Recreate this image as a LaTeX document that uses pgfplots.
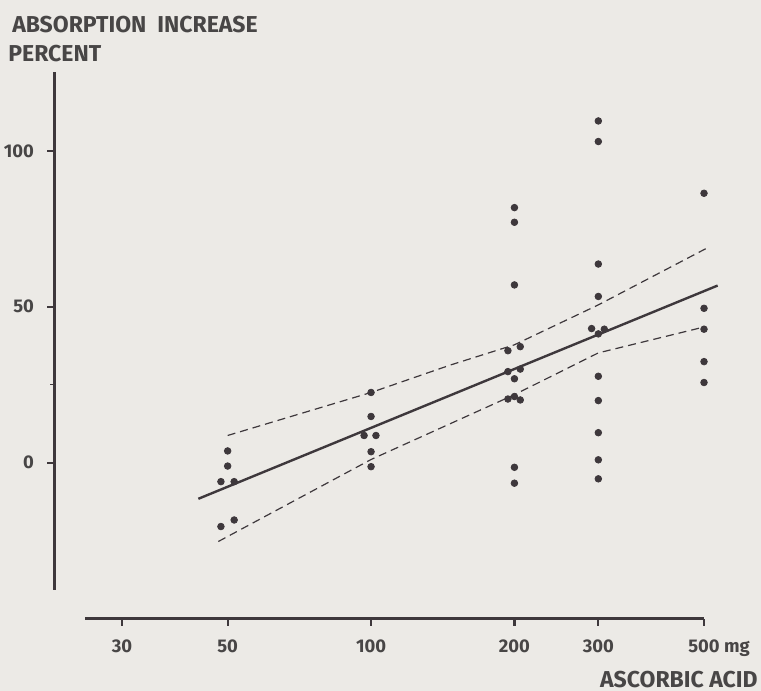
\documentclass[border=0pt]{standalone}
\usepackage{pgfplots}
\pgfplotsset{compat=1.18}
\usepackage{fontspec}
\setmainfont{Fira Sans}
\definecolor{bg}{RGB}{236,234,230}
\definecolor{ink}{RGB}{62,56,60}
\definecolor{txt}{RGB}{72,70,70}

\begin{document}
\begin{tikzpicture}
\fill[bg] (-27pt,-36.25pt) rectangle (353.5pt,309.25pt);
\path[use as bounding box] (-27pt,-36.25pt) rectangle (353.5pt,309.25pt);
\begin{axis}[
  at={(0,0)}, anchor=south west, scale only axis,
  width=325pt, height=273.25pt,
  xmode=log, xmin=21.6, xmax=500, ymin=-50, ymax=125.3,
  axis x line*=bottom, axis y line*=left,
  axis line style={draw=none,-},
  clip=false,
  /pgf/number format/assume math mode=true,
  xtick={30,50,100,200,300,500},
  xticklabels={30,50,100,200,300,500\rlap{ mg}},
  ytick={0,50,100}, minor ytick={25},
  yticklabels={0,50,100},
  xminorticks=false,
  tick align=outside,
  major tick length=3.5pt, minor tick length=2pt,
  every major tick/.append style={ink, line width=1.1pt},
  every minor tick/.append style={ink, line width=0.5pt},
  ticklabel style={font=\bfseries\fontsize{9.2}{10}\selectfont, text=txt},
  yticklabel style={xshift=-3pt},
  xticklabel style={yshift=-3.5pt},
]
\draw[ink, line width=1.5pt] (axis cs:25.1,-50) -- (axis cs:500,-50);
\draw[ink, line width=1.5pt] (axis cs:21.6,-40.8) -- (axis cs:21.6,125.3);

% regression line
\addplot[ink, line width=1.2pt] coordinates {(43.4,-11.6) (534,56.8)};
% confidence limits
\addplot[ink, line width=0.6pt, dash pattern=on 4pt off 2.5pt] coordinates {
  (50,8.7) (100,22.5) (146.7,31.3) (200,37.8) (300,50.6) (504,68.6)};
\addplot[ink, line width=0.6pt, dash pattern=on 4pt off 2.5pt] coordinates {
  (47.8,-25.3) (100,1.0) (200,21.8) (300,35.2) (500,43.5)};

% data points
\addplot[only marks, mark=*, mark size=1.65pt, ink, mark options={fill=ink, draw=ink}] coordinates {
  (50,3.75) (50,-1.1) (48.4,-6.1) (51.6,-6.1) (51.6,-18.4) (48.4,-20.5)
  (100,22.5) (100,14.8) (96.7,8.7) (102.4,8.7) (100,3.5) (100,-1.3)
  (200,81.8) (200,77.1) (200,57.0) (193.8,35.9) (205.7,37.2) (193.8,29.2) (205.7,30.0)
  (200,26.9) (193.8,20.4) (200,21.2) (205.7,20.1) (200,-1.5) (200,-6.6)
  (300,109.6) (300,103.0) (300,63.7) (300,53.3) (290.4,43.0) (308.8,42.8) (300,41.3)
  (300,27.7) (300,19.9) (300,9.6) (300,0.9) (300,-5.2)
  (500,86.4) (500,49.5) (500,42.8) (500,32.4) (500,25.7)
};
\end{axis}
\node[anchor=base west, inner sep=0, font=\bfseries\fontsize{11.5}{13}\selectfont, text=txt] at (-21pt,293pt) {ABSORPTION\ \ INCREASE};
\node[anchor=base west, inner sep=0, font=\bfseries\fontsize{11.5}{13}\selectfont, text=txt] at (-23pt,278.5pt) {PERCENT};
\node[anchor=base east, inner sep=0, font=\bfseries\fontsize{11.5}{13}\selectfont, text=txt] at (352pt,-34.5pt) {ASCORBIC ACID};
\end{tikzpicture}
\end{document}
